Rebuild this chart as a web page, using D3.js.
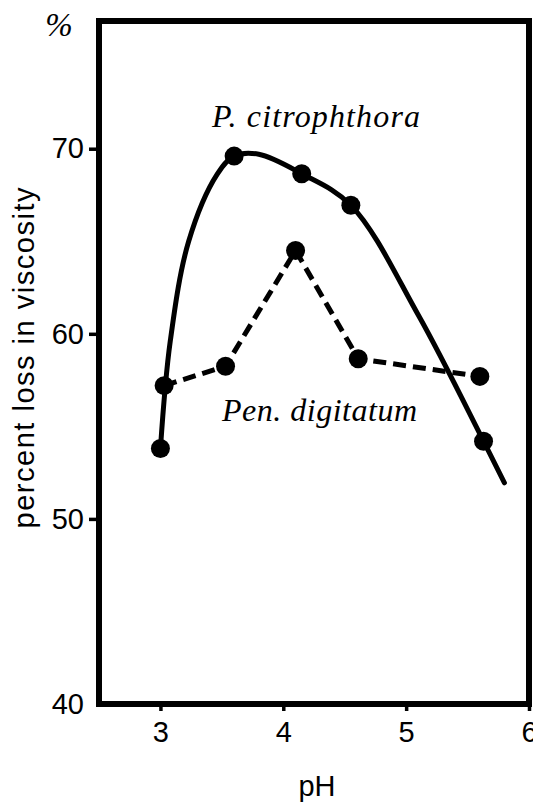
<!DOCTYPE html>
<html>
  <head>
    <meta charset="utf-8">
    <script src="https://d3js.org/d3.v7.min.js"></script>
    <style>
      body { margin: 0; background: #fff; }
    </style>
  </head>
  <body>
    <div id="chart"></div>
    <script type="text/javascript">

      // values
      var xTicks = [3, 4, 5, 6];
      var yTicks = [40, 50, 60, 70];

      // P. citrophthora measured points
      var citroPH   = [3.0, 3.6, 4.15, 4.55, 5.63];
      var citroLoss = [53.8, 69.6, 68.65, 66.95, 54.2];
      // the hand drawn smooth curve, traced along its length
      var citroCurvePH   = [3.0, 3.08, 3.23, 3.46, 3.6, 3.8, 4.15, 4.55, 5.1, 5.63, 5.8];
      var citroCurveLoss = [53.8, 59.6, 65.0, 68.6, 69.6, 69.7, 68.65, 66.95, 61.0, 54.2, 51.95];

      // Pen. digitatum (dashed, straight)
      var digiPH   = [3.03, 3.53, 4.1, 4.61, 5.6];
      var digiLoss = [57.2, 58.25, 64.5, 58.65, 57.7];

      var W = 533, H = 802;

      var svg = d3.select("#chart")
          .append("svg")
          .attr("width", W)
          .attr("height", H);

      var x = d3.scaleLinear()
          .domain([2.5, 6])
          .range([99, 529]);

      var y = d3.scaleLinear()
          .domain([40, 76.9])
          .range([704, 21]);

      var citro = citroPH.map(function(d, i) { return [d, citroLoss[i]]; });
      var citroCurve = citroCurvePH.map(function(d, i) { return [d, citroCurveLoss[i]]; });
      var digi = digiPH.map(function(d, i) { return [d, digiLoss[i]]; });

      // y axis ticks + labels
      var yAxis = svg.append("g")
          .attr("transform", "translate(" + x(2.5) + ",0)")
          .call(d3.axisLeft(y).tickValues(yTicks).tickSize(10).tickPadding(5).tickFormat(d3.format("d")));
      yAxis.select(".domain").remove();
      yAxis.selectAll(".tick line")
          .attr("stroke-width", 3.5)
          .attr("x2", function(d) { return d === 40 ? 0 : -10; });
      yAxis.selectAll(".tick text")
          .attr("font-family", "Liberation Sans, Arial, sans-serif")
          .attr("font-size", 29)
          .attr("fill", "#000");

      // x axis ticks + labels
      var xAxis = svg.append("g")
          .attr("transform", "translate(0," + y(40) + ")")
          .call(d3.axisBottom(x).tickValues(xTicks).tickSize(7).tickPadding(10).tickFormat(d3.format("d")));
      xAxis.select(".domain").remove();
      xAxis.selectAll(".tick line").attr("stroke-width", 3.5);
      xAxis.selectAll(".tick text")
          .attr("font-family", "Liberation Sans, Arial, sans-serif")
          .attr("font-size", 29)
          .attr("fill", "#000");

      // frame
      svg.append("rect")
          .attr("x", x(2.5))
          .attr("y", y(76.9))
          .attr("width", x(6) - x(2.5))
          .attr("height", y(40) - y(76.9))
          .attr("fill", "none")
          .attr("stroke", "#000")
          .attr("stroke-width", 6);

      // curves
      var smooth = d3.line()
          .x(function(d) { return x(d[0]); })
          .y(function(d) { return y(d[1]); })
          .curve(d3.curveCatmullRom.alpha(0.5));

      var straight = d3.line()
          .x(function(d) { return x(d[0]); })
          .y(function(d) { return y(d[1]); });

      svg.append("path")
          .datum(digi)
          .attr("d", straight)
          .attr("fill", "none")
          .attr("stroke", "#000")
          .attr("stroke-width", 5)
          .attr("stroke-dasharray", "13,7");

      svg.append("path")
          .datum(citroCurve)
          .attr("d", smooth)
          .attr("fill", "none")
          .attr("stroke", "#000")
          .attr("stroke-width", 5)
          .attr("stroke-linecap", "round");

      svg.append("g")
        .selectAll("circle")
        .data(citro.concat(digi))
        .enter().append("circle")
          .attr("cx", function(d) { return x(d[0]); })
          .attr("cy", function(d) { return y(d[1]); })
          .attr("r", 9.5)
          .attr("fill", "#000");

      // series labels
      svg.append("text")
          .attr("x", 212)
          .attr("y", 127)
          .attr("textLength", 208)
          .attr("lengthAdjust", "spacing")
          .attr("font-family", "Liberation Serif, Times New Roman, serif")
          .attr("font-style", "italic")
          .attr("font-size", 32)
          .text("P. citrophthora");

      svg.append("text")
          .attr("x", 222)
          .attr("y", 421)
          .attr("textLength", 195)
          .attr("lengthAdjust", "spacing")
          .attr("font-family", "Liberation Serif, Times New Roman, serif")
          .attr("font-style", "italic")
          .attr("font-size", 32)
          .text("Pen. digitatum");

      // unit + axis titles
      svg.append("text")
          .attr("x", 59)
          .attr("y", 36)
          .attr("text-anchor", "middle")
          .attr("font-family", "Liberation Serif, Times New Roman, serif")
          .attr("font-style", "italic")
          .attr("font-size", 33)
          .text("%");

      svg.append("text")
          .attr("transform", "translate(34,358) rotate(-90)")
          .attr("text-anchor", "middle")
          .attr("textLength", 341)
          .attr("lengthAdjust", "spacing")
          .attr("font-family", "Liberation Sans, Arial, sans-serif")
          .attr("font-size", 29)
          .text("percent loss in viscosity");

      svg.append("text")
          .attr("x", 317)
          .attr("y", 796)
          .attr("text-anchor", "middle")
          .attr("font-family", "Liberation Sans, Arial, sans-serif")
          .attr("font-size", 29)
          .text("pH");

    </script>
  </body>
</html>
